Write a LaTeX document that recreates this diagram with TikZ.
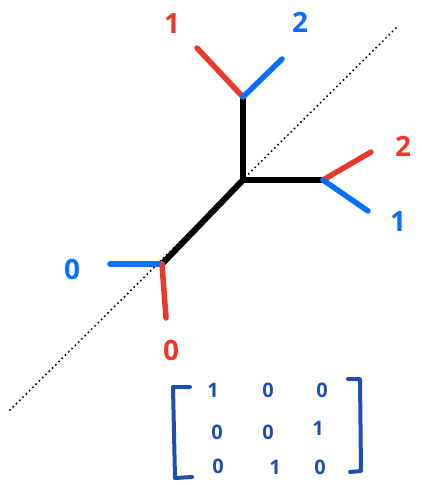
\documentclass[tikz,border=0pt]{standalone}
\usepackage{fontspec}
\setmainfont{Open Sans}
\definecolor{hred}{HTML}{E8392A}
\definecolor{hblue}{HTML}{0A6EFF}
\definecolor{mblue}{HTML}{1E4FB0}
\begin{document}
\begin{tikzpicture}[x=1pt,y=-1pt,
  edge/.style={line width=6pt,line cap=round,black},
  redarm/.style={line width=5.5pt,line cap=round,hred},
  bluearm/.style={line width=5.5pt,line cap=round,hblue},
  lab/.style={font=\fontsize{28}{28}\selectfont\bfseries,inner sep=0pt},
  ent/.style={font=\fontsize{20}{20}\selectfont\bfseries,text=mblue,inner sep=0pt},
  brack/.style={line width=4pt,mblue,line cap=round,line join=round}]
\useasboundingbox (0,0) rectangle (422,485);
% dotted diagonal
\coordinate (d1) at (10,410);
\coordinate (d2) at (397,27);
\draw[line width=2.2pt,line cap=round,dash pattern=on 0pt off 4.6pt] (d1) -- (d2);
% tree junctions
\coordinate (C) at (243,180);
\coordinate (T) at (243,97);
\coordinate (R) at (323,180);
\coordinate (L) at (162,264);
\draw[edge] (T) -- (C) -- (R);
\draw[edge] (C) -- (L);
% arm ends
\coordinate (Tr) at (197,48);
\coordinate (Tb) at (282,59);
\coordinate (Rr) at (371,152);
\coordinate (Rb) at (368,211);
\coordinate (Lb) at (110,264);
\coordinate (Lr) at (166,318);
\draw[redarm] (T) -- (Tr);
\draw[bluearm] (T) -- (Tb);
\draw[redarm] (R) -- (Rr);
\draw[bluearm] (R) -- (Rb);
\draw[bluearm] (L) -- (Lb);
\draw[redarm] (L) -- (Lr);
% labels
\node[lab,text=hred] (l1) at (172,24) {1};
\node[lab,text=hblue] (l2) at (300,22) {2};
\node[lab,text=hred] (r2) at (403,146) {2};
\node[lab,text=hblue] (r1) at (398,222) {1};
\node[lab,text=hblue] (b0) at (72,269) {0};
\node[lab,text=hred] (d0) at (171,350) {0};
% matrix
\coordinate (lb1) at (190,387);
\coordinate (lb2) at (173,387);
\coordinate (lb3) at (175,478);
\coordinate (lb4) at (192,477);
\draw[brack] (lb1) -- (lb2) -- (lb3) -- (lb4);
\coordinate (rb1) at (348,379);
\coordinate (rb2) at (360,379);
\coordinate (rb3) at (361,471);
\coordinate (rb4) at (350,472);
\draw[brack] (rb1) -- (rb2) -- (rb3) -- (rb4);
\node[ent] (m11) at (213,390) {1};
\node[ent] (m12) at (268,390) {0};
\node[ent] (m13) at (322,390) {0};
\node[ent] (m21) at (217,432) {0};
\node[ent] (m22) at (268,432) {0};
\node[ent] (m23) at (318,428) {1};
\node[ent] (m31) at (218,466) {0};
\node[ent] (m32) at (275,467) {1};
\node[ent] (m33) at (320,467) {0};
\end{tikzpicture}
\end{document}
